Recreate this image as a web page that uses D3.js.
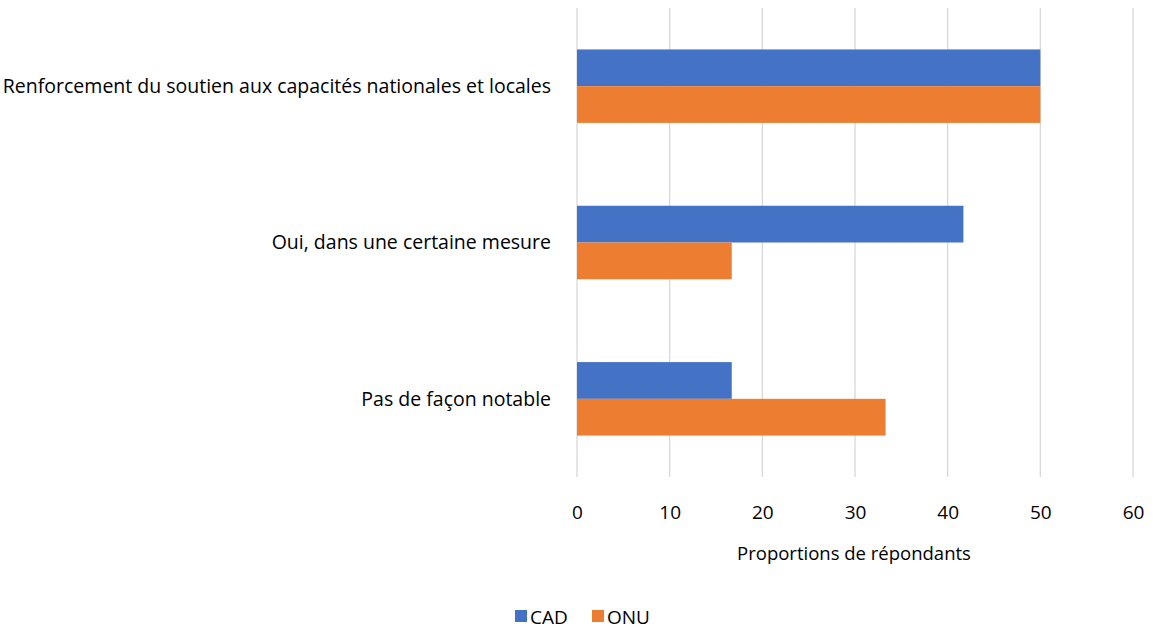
<!DOCTYPE html>
<html lang="en">
<head>
  <meta charset="UTF-8" />
  <title>Proportions de répondants</title>
  <script src="https://cdn.jsdelivr.net/npm/d3@7"></script>
  <style>
    html, body { margin: 0; padding: 0; background: #fff; }
    svg { display: block; }
    text { font-family: "Open Sans", sans-serif; fill: #000; }
  </style>
</head>
<body>
  <script>
    // categories, top to bottom
    const categories = [
      "Renforcement du soutien aux capacités nationales et locales",
      "Oui, dans une certaine mesure",
      "Pas de façon notable"
    ];
    const seriesNames = ["CAD", "ONU"];
    const cadValues = [50, 41.7, 16.7];
    const onuValues = [50, 16.7, 33.3];
    const xTicks = [0, 10, 20, 30, 40, 50, 60];
    const colors = ["#4472c4", "#ed7d31"];

    const width = 1153, height = 630;
    const plotLeft = 577, plotRight = 1133, plotTop = 8, plotBottom = 477;

    const svg = d3.select("body").append("svg")
      .attr("width", width)
      .attr("height", height);

    const x = d3.scaleLinear().domain([0, 60]).range([plotLeft, plotRight]);
    const y = d3.scaleBand().domain(categories).range([plotTop, plotBottom]).paddingInner(0.53).paddingOuter(0.265);
    const ySub = d3.scaleBand().domain(seriesNames).range([0, y.bandwidth()]);

    // gridlines
    svg.append("g")
      .selectAll("line")
      .data(xTicks)
      .join("line")
        .attr("x1", d => x(d)).attr("x2", d => x(d))
        .attr("y1", plotTop).attr("y2", plotBottom)
        .attr("stroke", "#d9d9d9")
        .attr("stroke-width", 1.3);

    // bars
    const rows = categories.map((c, i) => ({ cat: c, vals: [cadValues[i], onuValues[i]] }));
    const groups = svg.append("g")
      .selectAll("g")
      .data(rows)
      .join("g")
        .attr("transform", d => `translate(0,${y(d.cat)})`);

    groups.selectAll("rect")
      .data(d => d.vals.map((v, j) => ({ name: seriesNames[j], v, j })))
      .join("rect")
        .attr("x", x(0))
        .attr("y", d => ySub(d.name))
        .attr("width", d => x(d.v) - x(0))
        .attr("height", ySub.bandwidth())
        .attr("fill", d => colors[d.j]);

    // category labels
    svg.append("g")
      .selectAll("text")
      .data(categories)
      .join("text")
        .attr("x", 551)
        .attr("y", d => y(d) + y.bandwidth() / 2)
        .attr("dy", "0.35em")
        .attr("text-anchor", "end")
        .attr("font-size", 19.5)
        .text(d => d);

    // x axis tick labels
    const xAxis = d3.axisBottom(x).tickValues(xTicks).tickSize(0).tickPadding(0);
    const ax = svg.append("g")
      .attr("transform", `translate(0,${plotBottom + 28})`)
      .call(xAxis);
    ax.select(".domain").remove();
    ax.selectAll("text")
      .attr("font-size", 19)
      .attr("font-family", "Open Sans, sans-serif")
      .attr("fill", "#000");

    // axis title
    svg.append("text")
      .attr("x", (plotLeft + plotRight) / 2 - 1)
      .attr("y", 560)
      .attr("text-anchor", "middle")
      .attr("font-size", 18.5)
      .text("Proportions de répondants");

    // legend
    const legend = svg.append("g").attr("transform", "translate(515,617)");
    const items = legend.selectAll("g")
      .data(seriesNames)
      .join("g")
        .attr("transform", (d, i) => `translate(${i * 77},0)`);
    items.append("rect")
      .attr("x", 0).attr("y", -7)
      .attr("width", 12).attr("height", 12)
      .attr("fill", (d, i) => colors[i]);
    items.append("text")
      .attr("x", 15)
      .attr("y", 0)
      .attr("dy", "0.35em")
      .attr("font-size", 19)
      .text(d => d);
  </script>
</body>
</html>
